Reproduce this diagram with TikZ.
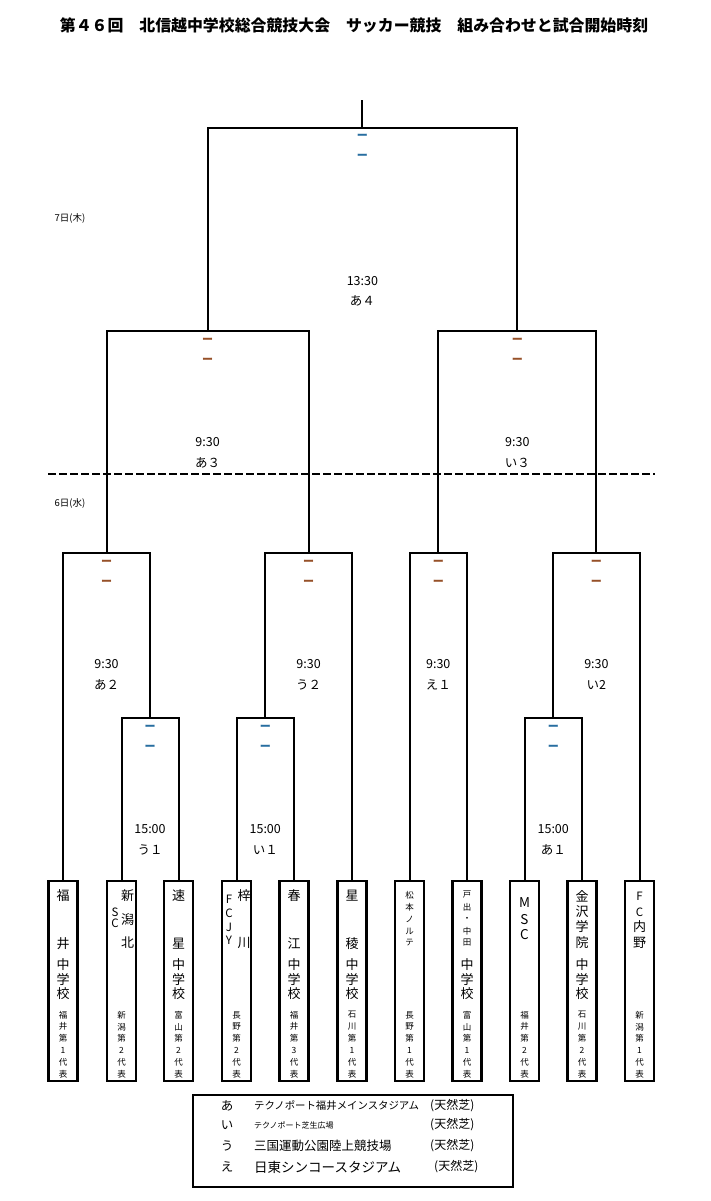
\documentclass[tikz,border=0pt]{standalone}
\usepackage{fontspec}
\setmainfont{Noto Sans CJK JP}
\definecolor{dashbrown}{RGB}{150,80,40}
\definecolor{dashblue}{RGB}{40,110,160}
\tikzset{
	team/.style={draw, line width=2.6pt, minimum width=29pt, minimum height=200pt, inner sep=0pt},
	big/.style={font=\fontsize{13}{15}\selectfont, inner sep=0pt},
	small/.style={font=\fontsize{8.5}{10}\selectfont, inner sep=0pt},
	latin/.style={font=\fontsize{11.5}{13}\selectfont, inner sep=0pt},
	score/.style={font=\bfseries\fontsize{11}{12}\selectfont, inner sep=0pt},
	info/.style={font=\fontsize{12.5}{14}\selectfont, inner sep=0pt},
	bracket/.style={line width=2pt},
}
% Spalte mit Zeichen an festen y-Werten
\newcommand\tate[4]{\foreach \c/\y [count=\i] in {#4} \node[#1] (#2-\i) at (#3,\y) {\c};}
\newcommand\daihyo[3]{\foreach \c [count=\i] in {#3} \node[small] (#1-r\i) at (#2,{1003.2+11.8*\i}) {\c};}
\newcommand\gakko[2]{\foreach \c [count=\i] in {中,学,校} \node[big] (#1-s\i) at (#2,{950.5+14.5*\i}) {\c};}
\begin{document}
\begin{tikzpicture}[x=1pt, y=-1pt, line join=miter]
	\useasboundingbox (0,0) rectangle (711,1201);
	\node[font=\bfseries\fontsize{15.9}{18}\selectfont] (title) at (354,25) {第４６回　北信越中学校総合競技大会　サッカー競技　組み合わせと試合開始時刻};
	
	% Mannschaften
	\foreach \n/\x in {1/63,2/121.5,3/178.5,4/236.5,5/294,6/352,7/409.5,8/467,9/524.5,10/582,11/639.5}
		\node[team] (t\n) at (\x,981) {};
	
	% Spiele
	\coordinate (r1a) at (150,718);
	\coordinate (r1b) at (265.25,718);
	\coordinate (r1c) at (553.25,718);
	\coordinate (q1) at (106.5,553);
	\coordinate (q2) at (308.6,553);
	\coordinate (q3) at (438.25,553);
	\coordinate (q4) at (596.4,553);
	\coordinate (s1) at (207.55,331);
	\coordinate (s2) at (517.3,331);
	\coordinate (f) at (362.4,128);
	\coordinate (champ) at (362.4,100);
	
	\draw[bracket] (t2.north) |- (r1a) -| (t3.north);
	\draw[bracket] (t4.north) |- (r1b) -| (t5.north);
	\draw[bracket] (t9.north) |- (r1c) -| (t10.north);
	\draw[bracket] (t1.north) |- (q1) -| (r1a);
	\draw[bracket] (r1b) |- (q2) -| (t6.north);
	\draw[bracket] (t7.north) |- (q3) -| (t8.north);
	\draw[bracket] (r1c) |- (q4) -| (t11.north);
	\draw[bracket] (q1) |- (s1) -| (q2);
	\draw[bracket] (q3) |- (s2) -| (q4);
	\draw[bracket] (s1) |- (f) -| (s2);
	\draw[bracket] (f) -- (champ);
	
	\foreach \m/\tm/\v/\dc in {s1/9:30/あ３/dashbrown, s2/9:30/い３/dashbrown, q1/9:30/あ２/dashbrown, q2/9:30/う２/dashbrown, q3/9:30/え１/dashbrown, q4/9:30/い2/dashbrown, r1a/15:00/う１/dashblue, r1b/15:00/い１/dashblue, r1c/15:00/あ１/dashblue}{
		\node[score, color=\dc] (\m-up) at ([yshift=-10pt]\m) {ー};
		\node[score, color=\dc] (\m-lo) at ([yshift=-30pt]\m) {ー};
		\node[info] (\m-time) at ([yshift=-111pt]\m) {\tm};
		\node[info] (\m-venue) at ([yshift=-132pt]\m) {\v};
	}
	\node[score, color=dashblue] (f-up) at ([yshift=-9pt]f) {ー};
	\node[score, color=dashblue] (f-lo) at ([yshift=-29pt]f) {ー};
	\node[info] (f-time) at ([yshift=-153pt]f) {13:30};
	\node[info] (f-venue) at ([yshift=-173pt]f) {あ４};
	
	% Tage
	\node[font=\fontsize{9.5}{11}\selectfont] (thu) at (70,218) {7日(木)};
	\node[font=\fontsize{9.5}{11}\selectfont] (wed) at (70,503) {6日(水)};
	\draw[line width=1.8pt, dash pattern=on 8pt off 3pt] (48,474) -- (655,474);
	
	% Namen
	\tate{big}{t1n}{63}{福/896,井/944} \gakko{t1}{63} \daihyo{t1}{63}{福,井,第,1,代,表}
	\tate{big}{t2n}{127.7}{新/896,潟/920,北/943} \tate{latin}{t2l}{115}{S/912,C/923} \daihyo{t2}{121.5}{新,潟,第,2,代,表}
	\tate{big}{t3n}{178.5}{速/896,星/944} \gakko{t3}{178.5} \daihyo{t3}{178.5}{富,山,第,2,代,表}
	\tate{big}{t4n}{244}{梓/896,川/943} \tate{latin}{t4l}{229}{F/899,C/913,J/927,Y/940} \daihyo{t4}{236.5}{長,野,第,2,代,表}
	\tate{big}{t5n}{294}{春/896,江/944} \gakko{t5}{294} \daihyo{t5}{294}{福,井,第,3,代,表}
	\tate{big}{t6n}{352}{星/896,稜/944} \gakko{t6}{352} \daihyo{t6}{352}{石,川,第,1,代,表}
	\tate{small}{t7n}{409.5}{松/895,本/907,ノ/919,ル/931,テ/943} \daihyo{t7}{409.5}{長,野,第,1,代,表}
	\tate{small}{t8n}{467}{戸/895,出/907,・/919,中/931,田/943} \gakko{t8}{467} \daihyo{t8}{467}{富,山,第,1,代,表}
	\tate{latin, font=\fontsize{13.5}{15}\selectfont}{t9n}{524.5}{M/903,S/920,C/935} \daihyo{t9}{524.5}{福,井,第,2,代,表}
	\tate{big}{t10n}{582}{金/896,沢/912,学/927,院/943} \gakko{t10}{582} \daihyo{t10}{582}{石,川,第,2,代,表}
	\tate{latin}{t11l}{639.5}{F/896,C/912} \tate{big}{t11n}{639.5}{内/927,野/943} \daihyo{t11}{639.5}{新,潟,第,1,代,表}
	
	% Legende
	\node[draw, line width=2.5pt, minimum width=320pt, minimum height=92pt, inner sep=0pt] (legend) at (353,1141) {};
	\foreach \k/\y in {あ/1106,い/1125,う/1146,え/1167}
		\node[info] (k\y) at (227,\y) {\k};
	\node[info, anchor=west, font=\fontsize{10.4}{12}\selectfont] (v1) at (254,1106) {テクノポート福井メインスタジアム};
	\node[info, anchor=west, font=\fontsize{8}{10}\selectfont] (v2) at (254,1125) {テクノポート芝生広場};
	\node[info, anchor=west, font=\fontsize{12.5}{14}\selectfont] (v3) at (254,1146) {三国運動公園陸上競技場};
	\node[info, anchor=west, font=\fontsize{13.5}{15}\selectfont] (v4) at (254,1167) {日東シンコースタジアム};
	\foreach \y/\x in {1106/430,1125/430,1146/430,1167/434}
		\node[info, anchor=west, font=\fontsize{12}{14}\selectfont] (g\y) at (\x,\y) {(天然芝)};
\end{tikzpicture}
\end{document}
